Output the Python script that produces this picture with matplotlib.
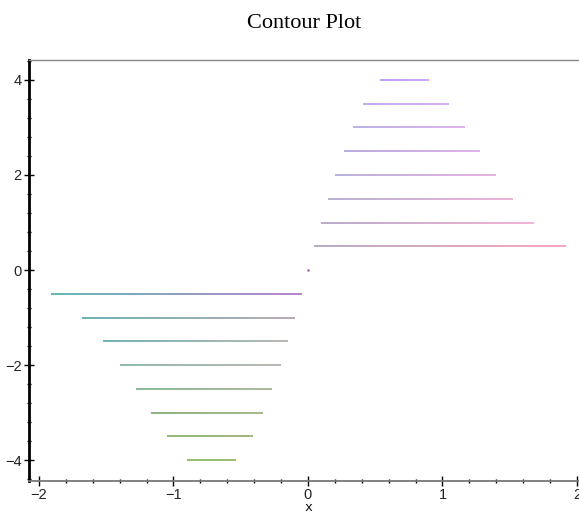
import numpy as np
import matplotlib
matplotlib.use("Agg")
import matplotlib.pyplot as plt
from matplotlib.collections import LineCollection
from matplotlib.colors import to_rgb
from matplotlib.ticker import MultipleLocator

# contour levels and the x extent of each horizontal contour segment
levels_pos = [0.5, 1.0, 1.5, 2.0, 2.5, 3.0, 3.5, 4.0]
x_start_pos = [0.045, 0.097, 0.151, 0.203, 0.268, 0.335, 0.411, 0.535]
x_end_pos = [1.915, 1.683, 1.524, 1.395, 1.279, 1.167, 1.045, 0.900]

levels_neg = [-0.5, -1.0, -1.5, -2.0, -2.5, -3.0, -3.5, -4.0]
x_start_neg = [-1.911, -1.683, -1.524, -1.398, -1.279, -1.167, -1.048, -0.900]
x_end_neg = [-0.045, -0.097, -0.151, -0.203, -0.268, -0.335, -0.411, -0.538]

# colour at each end of the lines (Maple shades along the curve)
col_start_pos = ["#a898b8", "#a898c0", "#a8a0c8", "#a8a0d0", "#a898d8", "#a8a0e0", "#b098ec", "#b088f8"]
col_end_pos = ["#f890b0", "#f0a0c8", "#e8a0d0", "#e0a0d8", "#d8a0e0", "#d8a0e8", "#d098f0", "#c090f8"]
col_start_neg = ["#40a8a0", "#48a0a0", "#50a0a0", "#78a898", "#70a880", "#70a068", "#78a858", "#80b050"]
col_end_neg = ["#a868c0", "#a898a8", "#a8a8a0", "#a8a8a0", "#98a888", "#90a878", "#88a868", "#80b050"]

fig = plt.figure(figsize=(5.79, 5.15), dpi=100)
ax = fig.add_axes([29 / 579, 1 - 481 / 515, 1 - 29 / 579, (481 - 60) / 515])


def gradient_line(ax, x0, x1, y, c0, c1, n=60):
    xs = np.linspace(x0, x1, n + 1)
    pts = np.column_stack([xs, np.full_like(xs, y)])
    segs = np.stack([pts[:-1], pts[1:]], axis=1)
    a = np.array(to_rgb(c0))
    b = np.array(to_rgb(c1))
    t = np.linspace(0, 1, n)[:, None]
    cols = a * (1 - t) + b * t
    lc = LineCollection(segs, colors=cols, linewidths=1.15, capstyle="butt")
    ax.add_collection(lc)


for lev, xa, xb, ca, cb in zip(levels_pos, x_start_pos, x_end_pos, col_start_pos, col_end_pos):
    gradient_line(ax, xa, xb, lev, ca, cb)
for lev, xa, xb, ca, cb in zip(levels_neg, x_start_neg, x_end_neg, col_start_neg, col_end_neg):
    gradient_line(ax, xa, xb, lev, ca, cb)

# tiny contour at the origin
ax.plot([0.0], [0.0], marker="s", ms=2, color="#9040a0", mec="none")

ax.set_xlim(-2.074, 2.015)
ax.set_ylim(-4.44, 4.42)

ax.spines["right"].set_visible(False)
ax.spines["left"].set_linewidth(2.0)
ax.spines["left"].set_color("black")
ax.spines["top"].set_linewidth(1.0)
ax.spines["top"].set_color("#888888")
ax.spines["bottom"].set_linewidth(1.3)
ax.spines["bottom"].set_color("#777777")

ax.xaxis.set_major_locator(MultipleLocator(1))
ax.xaxis.set_minor_locator(MultipleLocator(0.2))
ax.yaxis.set_major_locator(MultipleLocator(2))
ax.yaxis.set_minor_locator(MultipleLocator(0.4))

ax.tick_params(axis="both", which="major", direction="inout", length=6.5, width=1.0,
               color="black", labelsize=10.5, pad=2)
ax.tick_params(axis="both", which="minor", direction="inout", length=3, width=1.0, color="black")
ax.tick_params(axis="x", which="major", pad=1.5)

for lab in ax.get_xticklabels() + ax.get_yticklabels():
    lab.set_fontfamily("Liberation Sans")
    lab.set_color("#222222")

# axis label sits in the small gap under the tick labels
fig.text(308 / 579, 1 - 508 / 515, "x", ha="center", va="center",
         fontfamily="Liberation Mono", fontsize=9.5)
fig.text(0.525, 1 - 24 / 515, "Contour Plot", ha="center", va="center",
         fontfamily="Liberation Serif", fontsize=16)

fig.savefig("out.png", dpi=100)
